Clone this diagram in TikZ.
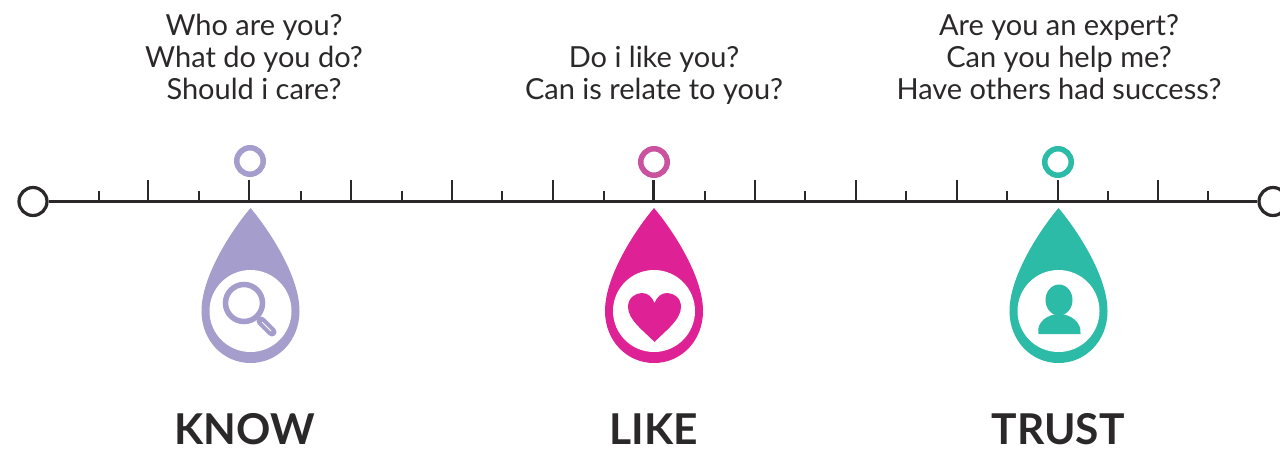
\documentclass[tikz,border=0pt]{standalone}
\usepackage{fontspec}
\setmainfont{Lato}
\definecolor{ink}{HTML}{2B282A}
\definecolor{pknow}{HTML}{A59DCC}
\definecolor{plike}{HTML}{DE2295}
\definecolor{rlike}{HTML}{C9539F}
\definecolor{ptrust}{HTML}{2CBBA7}
\tikzset{
  x=1pt,y=-1pt,
  endcircle/.style={circle,draw=ink,line width=3.2pt,fill=white,inner sep=0pt,minimum size=28pt},
  ringnode/.style={circle,line width=5.5pt,fill=white,inner sep=0pt,minimum size=26.5pt},
  axisline/.style={draw=ink,line width=3pt},
  tickline/.style={draw=ink,line width=2.5pt},
  question/.style={font=\fontsize{29}{32}\selectfont,text=ink,align=center,inner sep=0pt,anchor=base},
  heading/.style={font=\fontsize{42.5}{48}\selectfont\bfseries,text=ink,inner sep=0pt,anchor=base},
}
\newcommand{\dropshape}[2]{%
  \fill[#2] (#1,208) .. controls (#1+17,228) and (#1+49,275) .. (#1+49,311)
    .. controls (#1+49,341) and (#1+27,363) .. (#1,363)
    .. controls (#1-27,363) and (#1-49,341) .. (#1-49,311)
    .. controls (#1-49,275) and (#1-17,228) .. (#1,208) -- cycle;
  \fill[white] (#1,311) circle[radius=41];
}
\begin{document}
\begin{tikzpicture}
\useasboundingbox (0,0) rectangle (1280,451);
\clip (0,0) rectangle (1280,451);
\node[endcircle] (start) at (33,201.5) {};
\node[endcircle] (end) at (1273,201.5) {};
\draw[axisline] (start) -- (end);
\foreach \tx in {99,199,301,402,502,604,705,805,906,1007,1108,1208}
  \draw[tickline] (\tx,201.5) -- (\tx,191);
\foreach \tx in {148,351,452,553,755,856,957,1158}
  \draw[tickline] (\tx,201.5) -- (\tx,180);
% ring markers and stems
\node[ringnode,draw=pknow] (rk) at (250,161) {};
\node[ringnode,draw=rlike] (rl) at (654,162) {};
\node[ringnode,draw=ptrust] (rt) at (1058,162) {};
\coordinate (sk) at (249,201.5);
\coordinate (sl) at (653.5,201.5);
\coordinate (st) at (1058,201.5);
\draw[tickline] (sk) -- (249,180);
\draw[tickline] (sl) -- (653.5,180);
\draw[tickline] (st) -- (1058,180);
% drops
\dropshape{250.5}{pknow}
\dropshape{654}{plike}
\dropshape{1058.5}{ptrust}
% magnifier
\draw[pknow,line width=5.5pt] (244,303) circle[radius=18.5];
\draw[pknow,line width=4pt] (257,317) -- (261,321);
\draw[pknow,line width=9pt,line cap=round] (261,321) -- (272,332);
\draw[white,line width=0.8pt] (262,322) -- (271,331);
% heart
\fill[plike] (654.5,342) .. controls (645,332) and (628,320) .. (628,307)
  .. controls (628,298) and (635,293) .. (642,293)
  .. controls (648,293) and (652,297) .. (654.5,303)
  .. controls (657,297) and (661,293) .. (667,293)
  .. controls (674,293) and (681,298) .. (681,307)
  .. controls (681,320) and (664,332) .. (654.5,342) -- cycle;
% person
\fill[ptrust] (1059,300) ellipse[x radius=13.5,y radius=15.5];
\fill[ptrust] (1038.5,334) .. controls (1036,322) and (1048,314) .. (1059,314)
  .. controls (1070,314) and (1082,322) .. (1080.5,334) -- cycle;
% texts
\node[question] (q1a) at (254,35.5) {Who are you?};
\node[question] (q1b) at (254,67.5) {What do you do?};
\node[question] (q1c) at (254,99.5) {Should i care?};
\node[question] (q2a) at (654,67.5) {Do i like you?};
\node[question] (q2b) at (654,99.5) {Can is relate to you?};
\node[question] (q3a) at (1059,35.5) {Are you an expert?};
\node[question] (q3b) at (1059,67.5) {Can you help me?};
\node[question] (q3c) at (1059,99.5) {Have others had success?};
\node[heading] (know) at (244.5,444) {KNOW};
\node[heading] (like) at (654,444) {LIKE};
\node[heading] (trust) at (1058,444) {TRUST};
\end{tikzpicture}
\end{document}
